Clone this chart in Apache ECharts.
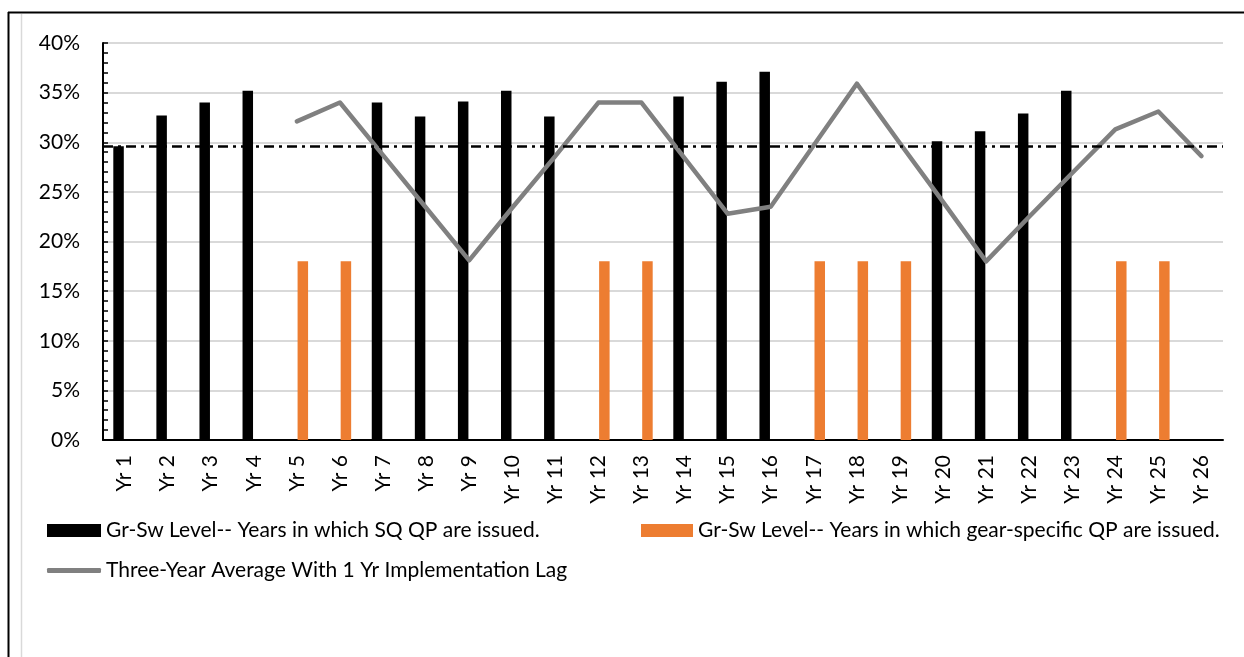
<!DOCTYPE html>
<html>
<head>
<meta charset="utf-8">
<script src="https://cdn.jsdelivr.net/npm/echarts@6/dist/echarts.min.js"></script>
<style>
  html, body { margin: 0; padding: 0; background: #fff; }
  #chart { width: 1244px; height: 657px; }
</style>
</head>
<body>
<div id="chart"></div>
<script>
// Year labels along the category axis
const years = ['Yr 1','Yr 2','Yr 3','Yr 4','Yr 5','Yr 6','Yr 7','Yr 8','Yr 9','Yr 10','Yr 11','Yr 12','Yr 13',
  'Yr 14','Yr 15','Yr 16','Yr 17','Yr 18','Yr 19','Yr 20','Yr 21','Yr 22','Yr 23','Yr 24','Yr 25','Yr 26'];

// Gr-Sw level (%) in years in which SQ QP are issued
const sqLevel = [29.6, 32.7, 34.0, 35.2, null, null, 34.0, 32.6, 34.1, 35.2, 32.6, null, null,
  34.6, 36.1, 37.1, null, null, null, 30.1, 31.1, 32.9, 35.2, null, null, null];

// Gr-Sw level (%) in years in which gear-specific QP are issued
const gearLevel = [null, null, null, null, 18, 18, null, null, null, null, null, 18, 18,
  null, null, null, 18, 18, 18, null, null, null, null, 18, 18, null];

// Three-year average with a one-year implementation lag (%)
const threeYearAvg = [null, null, null, null, 32.1, 34.0, 28.7, 23.4, 18.1, 23.4, 28.6, 34.0, 34.0,
  28.4, 22.8, 23.5, 29.7, 35.9, 29.9, 24.0, 18.0, 22.5, 26.9, 31.3, 33.1, 28.6];

// Long-run reference level (%)
const referenceLevel = 29.6;

// Value-axis range and step (%)
const yMin = 0, yMax = 40, yStep = 5;

const seriesNames = [
  'Gr-Sw Level-- Years in which SQ QP are issued.',
  'Gr-Sw Level-- Years in which gear-specific QP are issued.',
  'Three-Year Average With 1 Yr Implementation Lag'
];

const FONT = 'Lato';
const chart = echarts.init(document.getElementById('chart'), null, { renderer: 'canvas' });

const legendText = { fontFamily: FONT, fontSize: 21, color: '#000', lineHeight: 20 };

chart.setOption({
  animation: false,
  backgroundColor: '#fff',
  grid: { left: 103, right: 21, top: 43, bottom: 217, containLabel: false, outerBoundsMode: 'none' },
  legend: [
    { data: [seriesNames[0]], left: 47, top: 520, padding: 0, itemWidth: 54, itemHeight: 13,
      icon: 'rect', textStyle: legendText, selectedMode: false },
    { data: [seriesNames[1]], left: 641, top: 520, padding: 0, itemWidth: 52, itemHeight: 13,
      icon: 'rect', textStyle: legendText, selectedMode: false },
    { data: [{ name: seriesNames[2], icon: 'roundRect' }], left: 47, top: 560, padding: 0,
      itemWidth: 54, itemHeight: 5, textStyle: legendText, selectedMode: false }
  ],
  xAxis: {
    type: 'category',
    data: years,
    axisLine: { lineStyle: { color: '#000', width: 2 } },
    axisTick: { show: false },
    axisLabel: { rotate: 90, fontFamily: FONT, fontSize: 21, color: '#000', margin: 15, interval: 0 },
    splitLine: { show: false }
  },
  yAxis: {
    type: 'value',
    min: yMin, max: yMax, interval: yStep,
    axisLine: { show: true, lineStyle: { color: '#000', width: 2 } },
    axisTick: { show: true, inside: true, length: 5, lineStyle: { color: '#000', width: 1.5 } },
    minorTick: { show: true, splitNumber: 5, length: 5, lineStyle: { color: '#000', width: 1.5 } },
    axisLabel: { formatter: '{value}%', fontFamily: FONT, fontSize: 21, color: '#000', margin: 23 },
    splitLine: { show: true, lineStyle: { color: '#d9d9d9', width: 2 } }
  },
  series: [
    {
      name: seriesNames[0], type: 'bar', data: sqLevel,
      barWidth: 10.5, barGap: '14%',
      itemStyle: { color: '#000' }
    },
    {
      name: seriesNames[1], type: 'bar', data: gearLevel,
      barWidth: 10.5, barGap: '14%',
      itemStyle: { color: '#ED7D31' }
    },
    {
      name: seriesNames[2], type: 'line', data: threeYearAvg,
      symbol: 'none', connectNulls: false,
      lineStyle: { color: '#808080', width: 4.5, cap: 'round', join: 'round' },
      itemStyle: { color: '#808080' },
      markLine: {
        silent: true, symbol: 'none', label: { show: false },
        lineStyle: { color: '#000', width: 2.5, type: [10, 5, 3, 5] },
        data: [{ yAxis: referenceLevel }]
      },
      z: 3
    }
  ],
  graphic: [
    { type: 'line', shape: { x1: 8.5, y1: 12, x2: 8.5, y2: 657 }, style: { stroke: '#000', lineWidth: 2 } },
    { type: 'line', shape: { x1: 8, y1: 12.5, x2: 1244, y2: 12.5 }, style: { stroke: '#000', lineWidth: 2 } },
    { type: 'line', shape: { x1: 21.5, y1: 14, x2: 21.5, y2: 657 }, style: { stroke: '#d9d9d9', lineWidth: 1.5 } }
  ]
});
</script>
</body>
</html>
